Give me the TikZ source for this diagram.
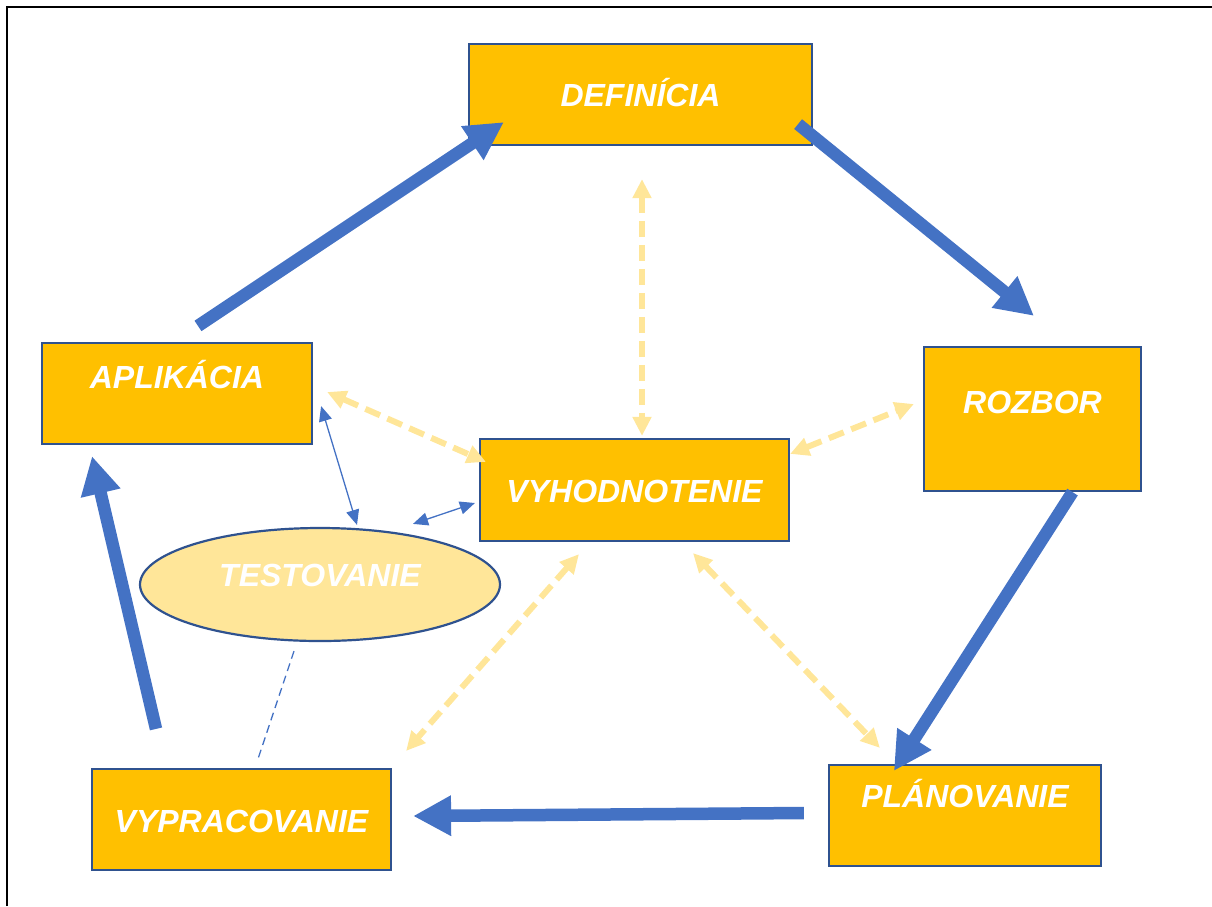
\documentclass[tikz,border=0pt]{standalone}
\usepackage{fontspec}
\setmainfont{Liberation Sans}
\usetikzlibrary{arrows.meta,shapes.geometric}
\definecolor{gold}{HTML}{FFC000}
\definecolor{bdr}{HTML}{2F528F}
\definecolor{ablue}{HTML}{4472C4}
\definecolor{lyel}{HTML}{FFE699}
\tikzset{
  box/.style={rectangle, draw=bdr, line width=2.2pt, fill=gold, inner sep=0pt,
    text=white, font=\fontsize{32}{37}\selectfont\bfseries\itshape, text height=23pt},
  oval/.style={ellipse, draw=bdr, line width=2.2pt, fill=lyel, inner sep=0pt,
    text=white, font=\fontsize{32}{37}\selectfont\bfseries\itshape, text height=23pt},
  bigarrow/.style={draw=ablue, line width=12.5pt, -{Triangle[length=38pt,width=38pt]}},
  dasharrow/.style={draw=lyel, line width=6pt, dash pattern=on 16pt off 8pt,
    {Triangle[length=19pt,width=18pt]}-{Triangle[length=19pt,width=18pt]}},
  thinarrow/.style={draw=ablue, line width=1.3pt,
    {Triangle[length=15pt,width=13pt]}-{Triangle[length=15pt,width=13pt]}},
  thindash/.style={draw=ablue, line width=1.3pt, dash pattern=on 8pt off 5pt},
  frameline/.style={draw=black, line width=2.5pt}
}
\begin{document}
\begin{tikzpicture}[x=1pt,y=-1pt]
\useasboundingbox (0,0) rectangle (1212,906);
\draw[frameline] (7,906) -- (7,7) -- (1212,7);

\node[box, minimum width=343pt, minimum height=101pt, text depth=0pt] (def) at (640.5,94.5) {DEFINÍCIA};
\node[box, minimum width=270pt, minimum height=101pt, text depth=33pt] (apl) at (177,393.5) {APLIKÁCIA};
\node[box, minimum width=217pt, minimum height=144pt, text depth=34pt] (roz) at (1032.5,419) {ROZBOR};
\node[box, minimum width=309pt, minimum height=102pt, text height=25pt, text depth=0pt] (vyh) at (634.5,490) {VYHODNOTENIE};
\node[box, minimum width=272pt, minimum height=101pt, text depth=39pt] (pla) at (965,815.5) {PLÁNOVANIE};
\node[box, minimum width=299pt, minimum height=101pt, text height=26pt, text depth=0pt] (vyp) at (241.5,819.5) {VYPRACOVANIE};
\node[oval, minimum width=360pt, minimum height=113pt, text depth=19pt] (tst) at (320,584.5) {TESTOVANIE};

% big blue cycle arrows
\draw[bigarrow] ([xshift=21pt,yshift=16pt]apl.north) -- ([xshift=36pt,yshift=24pt]def.south west);
\draw[bigarrow] ([xshift=-15pt,yshift=22pt]def.south east) -- ([xshift=1.5pt,yshift=30pt]roz.north);
\draw[bigarrow] ([xshift=40pt]roz.south) -- ([xshift=66pt,yshift=-7pt]pla.north west);
\draw[bigarrow] ([xshift=-24pt,yshift=2.5pt]pla.west) -- ([xshift=21pt,yshift=3.5pt]vyp.east);
\draw[bigarrow] ([xshift=-85.5pt,yshift=39pt]vyp.north) -- ([xshift=-85pt,yshift=-11pt]apl.south);

% dashed light yellow double arrows
\draw[dasharrow] ([xshift=1.5pt,yshift=-33pt]def.south) -- ([xshift=7.5pt,yshift=2pt]vyh.north);
\draw[dasharrow] ([xshift=14pt,yshift=1.5pt]apl.east) -- ([xshift=7pt,yshift=-24pt]vyh.north west);
\draw[dasharrow] ([yshift=-16pt]vyh.north east) -- ([xshift=-9pt,yshift=15pt]roz.west);
\draw[dasharrow] ([xshift=-55.5pt,yshift=-12pt]vyh.south) -- ([xshift=14pt,yshift=17pt]vyp.north east);
\draw[dasharrow] ([xshift=58.5pt,yshift=-11pt]vyh.south) -- ([xshift=52pt,yshift=16pt]pla.north west);

% thin blue arrows
\draw[thinarrow] ([xshift=8pt,yshift=39pt]apl.south east) -- ([xshift=37pt,yshift=2pt]tst.north);
\draw[thinarrow] ([xshift=93pt,yshift=3pt]tst.north) -- ([xshift=-4pt,yshift=-13pt]vyh.west);

% thin dashed line
\draw[thindash] ([xshift=-26pt,yshift=-9pt]tst.south) -- ([xshift=16.5pt,yshift=9pt]vyp.north);
\end{tikzpicture}
\end{document}
